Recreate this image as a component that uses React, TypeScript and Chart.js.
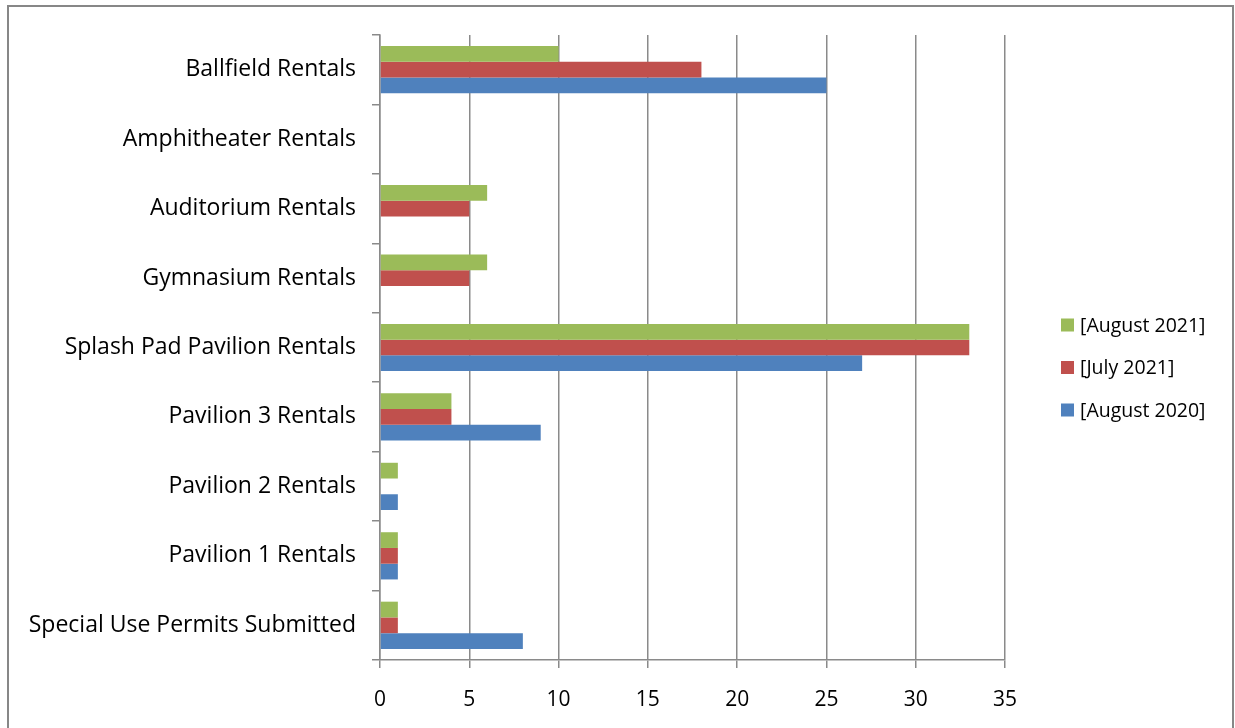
import React, { useEffect, useRef } from "react";
import { Chart, registerables } from "chart.js";

Chart.register(...registerables);

const categories = [
  "Ballfield Rentals",
  "Amphitheater Rentals",
  "Auditorium Rentals",
  "Gymnasium Rentals",
  "Splash Pad Pavilion Rentals",
  "Pavilion 3 Rentals",
  "Pavilion 2 Rentals",
  "Pavilion 1 Rentals",
  "Special Use Permits Submitted",
];

const seriesNames = ["[August 2021]", "[July 2021]", "[August 2020]"];
const seriesColors = ["#9BBB59", "#C0504D", "#4F81BD"];

const august2021 = [10, 0, 6, 6, 33, 4, 1, 1, 1];
const july2021 = [18, 0, 5, 5, 33, 4, 0, 1, 1];
const august2020 = [25, 0, 0, 0, 27, 9, 1, 1, 8];

const xMin = 0;
const xMax = 35;
const xStep = 5;

const FONT = "'Open Sans', sans-serif";
const GRID = "#8a8a8a";

const frame = {
  id: "frame",
  beforeDraw(chart: any) {
    const ctx = chart.ctx;
    ctx.save();
    ctx.fillStyle = "#ffffff";
    ctx.fillRect(0, 0, chart.width, chart.height);
    ctx.strokeStyle = "#878787";
    ctx.lineWidth = 2;
    ctx.strokeRect(8, 6, 1225, 800);
    ctx.restore();
  },
};

const sideLegend = {
  id: "sideLegend",
  afterDraw(chart: any) {
    const ctx = chart.ctx;
    const x = 1061;
    const y0 = 325;
    const gap = 42.5;
    const box = 13;
    ctx.save();
    ctx.font = `19.5px ${FONT}`;
    ctx.textBaseline = "middle";
    ctx.textAlign = "left";
    chart.data.datasets.forEach((ds: any, i: number) => {
      const cy = y0 + i * gap;
      ctx.fillStyle = ds.backgroundColor;
      ctx.fillRect(x, cy - box / 2, box, box);
      ctx.fillStyle = "#000000";
      ctx.fillText(ds.label, x + 19, cy + 1);
    });
    ctx.restore();
  },
};

export default function App() {
  const ref = useRef<HTMLCanvasElement | null>(null);

  useEffect(() => {
    if (!ref.current) return;
    const values = [august2021, july2021, august2020];
    const chart = new Chart(ref.current, {
      type: "bar",
      data: {
        labels: categories,
        datasets: seriesNames.map((name, i) => ({
          label: name,
          data: values[i],
          backgroundColor: seriesColors[i],
          borderWidth: 0,
          categoryPercentage: 0.68,
          barPercentage: 1,
        })),
      },
      options: {
        indexAxis: "y",
        animation: false,
        responsive: false,
        maintainAspectRatio: false,
        layout: { padding: { left: 0, top: 35, right: 230, bottom: 18 } },
        plugins: {
          legend: { display: false },
          tooltip: { enabled: false },
        },
        scales: {
          x: {
            min: xMin,
            max: xMax,
            ticks: {
              stepSize: xStep,
              color: "#000000",
              padding: 19,
              font: { family: FONT, size: 21 },
            },
            grid: {
              color: GRID,
              lineWidth: 1.5,
              drawTicks: true,
              tickLength: 8,
            },
            border: { display: true, color: GRID, width: 1.5 },
            afterFit: (s: any) => {
              s.height = 50;
            },
          },
          y: {
            offset: true,
            ticks: {
              color: "#000000",
              padding: 16,
              font: { family: FONT, size: 23 },
            },
            grid: {
              offset: true,
              drawOnChartArea: false,
              drawTicks: true,
              tickLength: 8,
              color: GRID,
              lineWidth: 1.5,
            },
            border: { display: true, color: GRID, width: 1.5 },
            afterFit: (s: any) => {
              s.width = 380;
            },
          },
        },
      },
      plugins: [frame, sideLegend],
    });
    return () => chart.destroy();
  }, []);

  return (
    <div style={{ position: "fixed", left: 0, top: 0, width: 1235, height: 728 }}>
      <canvas ref={ref} width={1235} height={728} style={{ width: 1235, height: 728 }} />
    </div>
  );
}
